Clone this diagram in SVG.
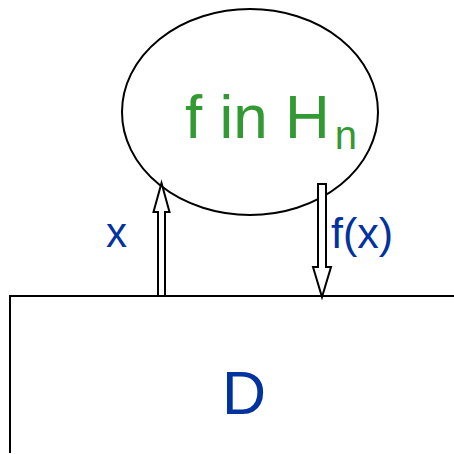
<svg xmlns="http://www.w3.org/2000/svg" width="454" height="454" viewBox="0 0 454 454">
<style>
.ln{fill:none;stroke:#000;stroke-width:2}
.ar{fill:#fff;stroke:#000;stroke-width:2;stroke-linejoin:miter}
.g{font-family:"Liberation Sans",Arial,sans-serif;fill:#339933}
.b{font-family:"Liberation Sans",Arial,sans-serif;fill:#0033A0}
</style>
<rect width="454" height="454" fill="#fff"/>
<g id="D">
<path class="ln" d="M10,453 V296 H454"/>
<text class="b" x="222" y="414" font-size="61">D</text>
</g>
<g id="H">
<ellipse class="ln" cx="250" cy="112" rx="128" ry="103"/>
<text class="g" x="185" y="138" font-size="62">f in H<tspan font-size="40" dx="5" y="149">n</tspan></text>
</g>
<g id="connectors">
<polygon class="ar" points="158,296 158,212 153.5,212 161.5,183 169.5,212 165,212 165,296"/>
<text class="b" x="106" y="247" font-size="42">x</text>
<polygon class="ar" points="318,184 326,184 326,267 331,267 322,297 313,267 318,267"/>
<text class="b" x="331" y="248" font-size="43">f(x)</text>
</g>
</svg>
